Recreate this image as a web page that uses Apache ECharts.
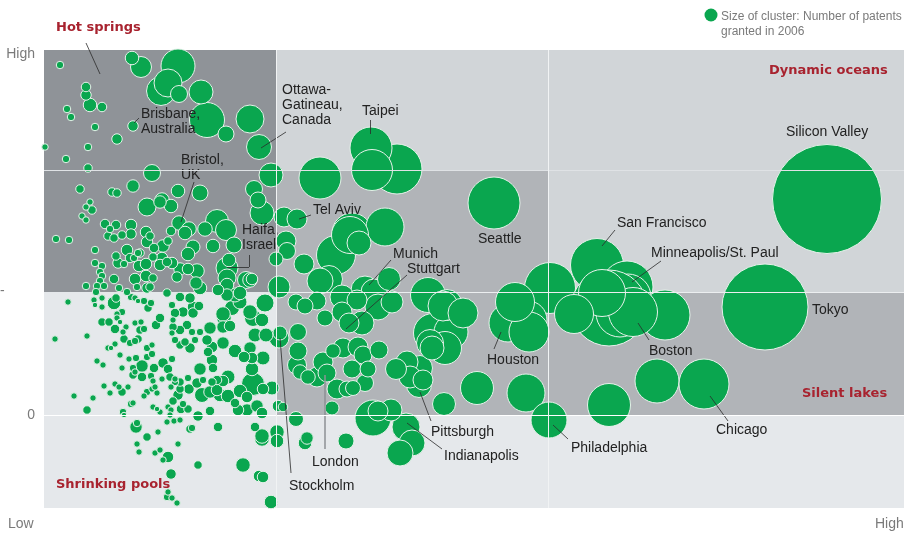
<!DOCTYPE html>
<html lang="en">
<head>
    <meta charset="UTF-8">
    <title>Patent clusters</title>
    <script src="https://cdn.jsdelivr.net/npm/echarts@6/dist/echarts.min.js"></script>
    <style>
        body { margin: 0; background: #fff; }
        #chart { width: 915px; height: 537px; }
    </style>
</head>
<body>
    <div id="chart"></div>
    <script>
        // every cluster is [x, y, patents scale]
        const hotSprings = [
            [16,350,6],[88,357,12],[97,348,21],[134,349,34],[124,332,28],[117,324,29],[135,321,17],[157,323,24],
            [163,295,35],[182,281,16],[206,296,28],[215,268,25],[42,328,8],[42,320,9],[46,310,12],[58,308,8],
            [23,306,6],[27,298,6],[51,288,6],[89,289,9],[73,276,9],[1,268,5],[44,268,6],[22,256,6],[44,247,7],
            [108,242,17],[227,240,24],[36,226,7],[89,229,11],[68,223,7],[73,222,7],[134,224,12],[156,222,16],
            [103,208,18],[118,215,13],[116,213,11],[127,209,12],[210,226,17],[214,215,16],[218,202,24],[46,213,5],
            [42,208,5],[48,205,7],[38,199,5],[42,195,5],[12,176,6],[25,175,6],[51,165,6],[51,152,6],[58,149,6],
            [56,143,6],[58,139,6],[56,134,6],[42,129,6],[53,129,6],[60,129,6],[52,123,6],[70,136,8],[75,127,6],
            [83,123,6],[61,191,8],[66,186,6],[72,190,8],[64,179,7],[70,177,7],[78,180,7],[87,190,10],[87,181,9],
            [102,183,10],[106,179,7],[103,173,10],[127,184,8],[135,192,13],[145,186,13],[141,182,12],[161,186,13],
            [173,194,23],[182,185,21],[190,170,16],[169,169,12],[149,168,14],[144,161,12],[124,174,7],[119,169,11],
            [110,167,8],[83,165,10],[72,159,7],[74,152,9],[80,151,6],[86,157,8],[90,157,6],[94,162,6],[96,162,7],
            [95,149,10],[102,151,10],[109,158,7],[118,157,10],[123,153,8],[116,150,10],[128,152,10],[136,146,11],
            [144,146,10],[153,144,13],[133,138,9],[152,132,11],[156,127,12],[91,136,10],[102,139,10],[109,137,7],
            [93,128,6],[103,127,9],[106,128,7],[123,122,7],[185,155,12],[183,147,22],[183,137,18],[183,130,12],
            [174,125,10],[202,135,17],[206,135,13],[208,136,10],[191,120,14],[196,122,12],[235,128,22],[232,156,14]
        ];
        const shrinkingPools = [
            [24,113,5],[11,76,5],[43,79,5],[50,115,5],[58,117,5],[51,110,4],[58,108,5],[70,112,12],[72,117,7],
            [87,118,6],[91,117,5],[94,114,4],[100,114,6],[104,107,7],[107,112,6],[78,103,6],[73,101,5],[73,97,5],
            [58,93,7],[65,93,7],[76,93,4],[71,86,8],[82,88,5],[79,83,5],[91,92,5],[97,93,5],[96,85,7],[100,86,6],
            [112,90,8],[116,97,8],[80,76,7],[86,72,6],[91,74,6],[94,76,7],[71,71,5],[64,67,5],[67,67,4],[103,67,6],
            [108,70,5],[53,54,5],[59,50,5],[76,60,5],[85,56,5],[92,57,6],[103,58,6],[108,61,6],[78,47,5],[98,49,11],
            [89,47,6],[89,40,7],[98,38,8],[91,43,5],[110,47,8],[119,52,9],[128,56,6],[124,46,8],[107,39,6],[109,34,5],
            [118,36,5],[126,38,7],[131,36,5],[60,29,5],[71,31,5],[75,28,5],[84,28,5],[78,23,7],[66,22,5],[30,19,5],
            [49,17,5],[43,5,7],[87,11,6],[89,12,5],[79,3,6],[80,0,4],[100,19,5],[103,23,6],[108,26,5],[113,22,5],
            [111,28,5],[127,28,5],[109,8,5],[113,6,4],[116,3,5],[124,8,5],[127,5,5],[126,0,5],[137,6,8],[139,11,6],
            [144,6,7],[129,14,7],[134,20,9],[136,26,7],[131,33,6],[136,33,7],[144,37,6],[145,26,9],[159,35,6],
            [154,-1,9],[166,4,8],[123,-7,5],[130,-6,5],[136,-5,5],[146,-14,7],[148,-13,6],[174,-12,8],[92,-12,11],
            [93,-8,6],[103,-22,7],[114,-17,5],[134,-29,5],[93,-29,5],[95,-37,5],[111,-38,5],[116,-35,5],[124,-42,10],
            [119,-45,5],[154,-50,7],[127,-59,9],[124,-77,5],[123,-82,6],[128,-83,5],[133,-88,5],[199,-50,13],
            [215,-61,10],[219,-62,10],[227,-87,12],[211,-12,8],[233,-17,13],[218,-24,13],[218,-21,13],[233,-26,12],
            [234,9,10],[239,8,8],
            [221,112,18],[206,103,13],[209,97,17],[218,95,12],[211,80,14],[222,80,14],[235,77,20],[236,82,14],
            [166,87,11],[179,88,11],[186,89,10],[180,97,13],[179,101,13],[188,107,15],[196,113,14],[183,120,11],
            [179,72,11],[191,64,12],[206,67,11],[208,57,10],[219,57,14],[200,58,10],[208,46,12],[156,46,11],
            [168,55,10],[169,47,8],[164,63,8],[168,68,10],[163,75,9],[151,75,6],[146,67,9],[136,70,7],[141,73,7],
            [131,75,6],[156,83,6],[148,83,6],[143,90,8],[136,85,8],[129,88,7],[128,82,5],[139,103,9],[149,102,9],
            [149,108,10],[155,109,8],[131,102,8],[136,118,8],[146,117,9],[128,110,6],[129,95,5],[158,20,15],
            [166,23,11],[173,25,10],[176,20,12],[184,19,12],[196,24,12],[209,31,23],[219,26,10],[228,27,14],
            [203,18,10],[191,12,8],[194,5,10],[203,5,11],[213,9,11],[218,2,10],[168,33,7],[179,34,10],[184,38,14],
            [173,35,8],[153,32,9]
        ];
        const silentLakes = [
            [276,237,42],[327,267,42],[353,246,50],[328,245,41],[240,198,20],[253,196,20],[341,188,38],[306,180,37],
            [308,182,40],[292,160,39],[315,172,24],[242,174,20],[243,164,17],[260,151,20],[285,136,27],[276,134,26],
            [298,118,24],[321,125,28],[330,123,26],[345,136,23],[334,108,26],[348,113,22],[313,115,20],[252,113,16],
            [261,109,16],[273,114,18],[281,97,16],[298,103,20],[305,92,20],[318,92,24],[384,120,35],[403,110,31],
            [399,109,30],[419,102,30],[389,82,39],[407,83,34],[401,67,33],[386,72,27],[388,67,24],[254,83,17],
            [254,64,18],[253,50,19],[256,43,13],[264,38,13],[273,38,20],[279,53,20],[283,42,18],[289,64,13],
            [299,67,20],[314,68,20],[319,60,18],[335,65,18],[308,46,18],[324,46,16],[321,32,17],[303,26,16],
            [293,26,20],[309,27,15],[288,7,14],[252,-4,15],[261,-28,12],[263,-23,11],[302,-26,16],[352,46,21],
            [363,53,22],[376,47,25],[379,35,20],[366,38,22],[375,30,25],[400,11,23],[433,27,33],[482,22,38],
            [505,-5,36],[329,-3,36],[347,5,22],[334,4,20],[362,-12,28],[368,-28,26],[356,-38,26],[450,212,52]
        ];
        // the big ones, listed back to front
        const dynamicOceans = [
            [783,216,109],[721,108,86],[613,34,44],[660,31,50],[565,10,43],[506,127,51],[484,95,38],[464,92,38],
            [485,83,40],[471,113,39],[553,150,53],[583,128,52],[621,100,50],[584,118,46],[565,107,76],[576,102,48],
            [589,103,49],[558,122,47],[530,101,39]
        ];

        const legendDot = [[667, 400]];
        const legendText = ['Size of cluster: Number of patents\ngranted in 2006'];
        const legendSpot = [[677, 391]];
        const quadrantNames = ['Hot springs', 'Shrinking pools', 'Dynamic oceans', 'Silent lakes'];
        const quadrantSpots = [[12, 387], [12, -70], [725, 344], [758, 21]];
        const cityNames = [
            'Ottawa-\nGatineau,\nCanada', 'Taipei', 'Silicon Valley', 'Brisbane,\nAustralia', 'Bristol,\nUK',
            'Haifa,\nIsrael', 'Tel Aviv', 'Munich', 'Stuttgart', 'Seattle', 'San Francisco', 'Minneapolis/St. Paul',
            'Tokyo', 'Boston', 'Houston', 'Pittsburgh', 'Indianapolis', 'London', 'Stockholm', 'Philadelphia', 'Chicago'
        ];
        const citySpots = [
            [238,310],[318,304],[742,283],[97,293],[137,247],[198,177],[269,205],[349,161],[363,146],[434,176],
            [573,192],[607,162],[768,105],[605,64],[443,55],[387,-17],[400,-41],[268,-47],[245,-71],[527,-33],[672,-15]
        ];
        // leader lines, from label to bubble
        const leaders = [
            [[42,372],[56,341]],[[95,297],[90,292]],[[242,283],[217,267]],[[326,295],[326,281]],[[150,233],[137,193]],
            [[205,160],[205,148]],[[205,148],[183,148]],[[267,200],[255,196]],[[347,155],[325,130]],[[363,140],[302,86]],
            [[571,185],[558,169]],[[617,154],[588,133]],[[605,75],[594,92]],[[450,66],[457,83]],[[684,-6],[666,19]],
            [[524,-24],[509,-10]],[[387,-6],[376,23]],[[398,-34],[363,-8]],[[247,-58],[236,77]]
        ];
        const londonLeader = [[281,-34],[281,40]];
        const yTicks = [0, 361];
        const yTickNames = { 0: '0', 361: 'High' };
        const axisEnds = [[-36,-109],[831,-109],[-44,124]];
        const axisEndNames = ['Low', 'High', '-'];

        const LIGHT = '#d1d5d8', MID = '#b1b4b8', DARK = '#8f9398', PALE = '#e5e8eb';
        const clusters = [...silentLakes, ...shrinkingPools, ...hotSprings]
            .sort((a, b) => b[2] - a[2]);

        const area = (x0, y0, x1, y1, color) => [
            { coord: [x0, y0], itemStyle: { color: color } },
            { coord: [x1, y1] }
        ];
        const rule = (from, to, color) => [
            { coord: from, lineStyle: { color: color } },
            { coord: to }
        ];
        const textSeries = (names, spots, label) => ({
            type: 'scatter', z: 4, silent: true, symbolSize: 0, clip: false,
            itemStyle: { opacity: 1 },
            data: names.map((n, i) => ({ name: n, value: spots[i] })),
            label: Object.assign({ show: true, position: 'right', distance: 0, formatter: '{b}' }, label)
        });
        const bubbleStyle = { color: '#0aa64f', borderColor: '#e6f2ea', borderWidth: 1, opacity: 1 };
        // the pale ring eats into small dots, so those get a little more room
        const bubbleSize = v => (v[2] < 14 ? v[2] + 1.5 : v[2]);

        const myChart = echarts.init(document.getElementById('chart'), null, { renderer: 'canvas' });
        myChart.setOption({
            animation: false,
            textStyle: { fontFamily: '"Liberation Sans", Arial, sans-serif' },
            grid: { left: 44, top: 50, width: 860, height: 458 },
            xAxis: {
                type: 'value', min: 0, max: 860,
                axisLine: { show: false }, axisTick: { show: false },
                axisLabel: { show: false }, splitLine: { show: false }
            },
            yAxis: {
                type: 'value', min: -93, max: 365,
                axisLine: { show: false }, axisTick: { show: false }, splitLine: { show: false },
                axisLabel: {
                    customValues: yTicks, color: '#7a7a7a', fontSize: 14, margin: 9,
                    formatter: v => yTickNames[v]
                }
            },
            series: [
                {
                    // quadrant panels under the bubbles
                    type: 'scatter', data: [], z: 1, silent: true,
                    markArea: {
                        silent: true,
                        data: [
                            area(0, 123, 232, 365, DARK),
                            area(232, 245, 860, 365, LIGHT),
                            area(232, 0, 504, 245, MID),
                            area(504, 123, 860, 245, LIGHT),
                            area(504, 0, 860, 123, MID),
                            area(0, 0, 232, 123, PALE),
                            area(0, -93, 860, 0, PALE)
                        ]
                    },
                    markLine: {
                        silent: true, symbol: 'none', label: { show: false },
                        lineStyle: { type: 'solid', width: 1, opacity: 1 },
                        data: [
                            rule([0, 245], [860, 245], '#dfe2e5'),
                            rule([232, 123], [860, 123], '#eceef0'),
                            rule([0, 0], [860, 0], '#ffffff'),
                            rule([232, 365], [232, -93], '#f1f3f4'),
                            rule([504, 365], [504, -93], '#f1f3f4')
                        ]
                    }
                },
                {
                    type: 'scatter', z: 2, silent: true,
                    data: clusters, symbolSize: bubbleSize, itemStyle: bubbleStyle
                },
                {
                    type: 'scatter', z: 2, silent: true,
                    data: dynamicOceans, symbolSize: bubbleSize, itemStyle: bubbleStyle
                },
                {
                    type: 'lines', coordinateSystem: 'cartesian2d', z: 3, silent: true, clip: false,
                    data: leaders.map(c => ({ coords: c })),
                    lineStyle: { color: '#2b2b2b', width: 0.8, opacity: 1 }
                },
                {
                    type: 'lines', coordinateSystem: 'cartesian2d', z: 3, silent: true,
                    data: [{ coords: londonLeader }],
                    lineStyle: { color: '#8d9094', width: 1.5, opacity: 1 }
                },
                {
                    // legend dot sits outside the plot
                    type: 'scatter', z: 4, silent: true, clip: false, symbolSize: 13,
                    data: legendDot, itemStyle: { color: '#0aa64f', opacity: 1 }
                },
                textSeries(legendText, legendSpot, { color: '#7a7a7a', fontSize: 12, lineHeight: 15 }),
                textSeries(cityNames, citySpots, { color: '#222', fontSize: 14, lineHeight: 15 }),
                textSeries(quadrantNames, quadrantSpots, {
                    color: '#a8232f', fontSize: 13, fontWeight: 'bold', fontFamily: '"DejaVu Sans", sans-serif'
                }),
                textSeries(axisEndNames, axisEnds, { color: '#7a7a7a', fontSize: 14 })
            ]
        });
    </script>
</body>
</html>
